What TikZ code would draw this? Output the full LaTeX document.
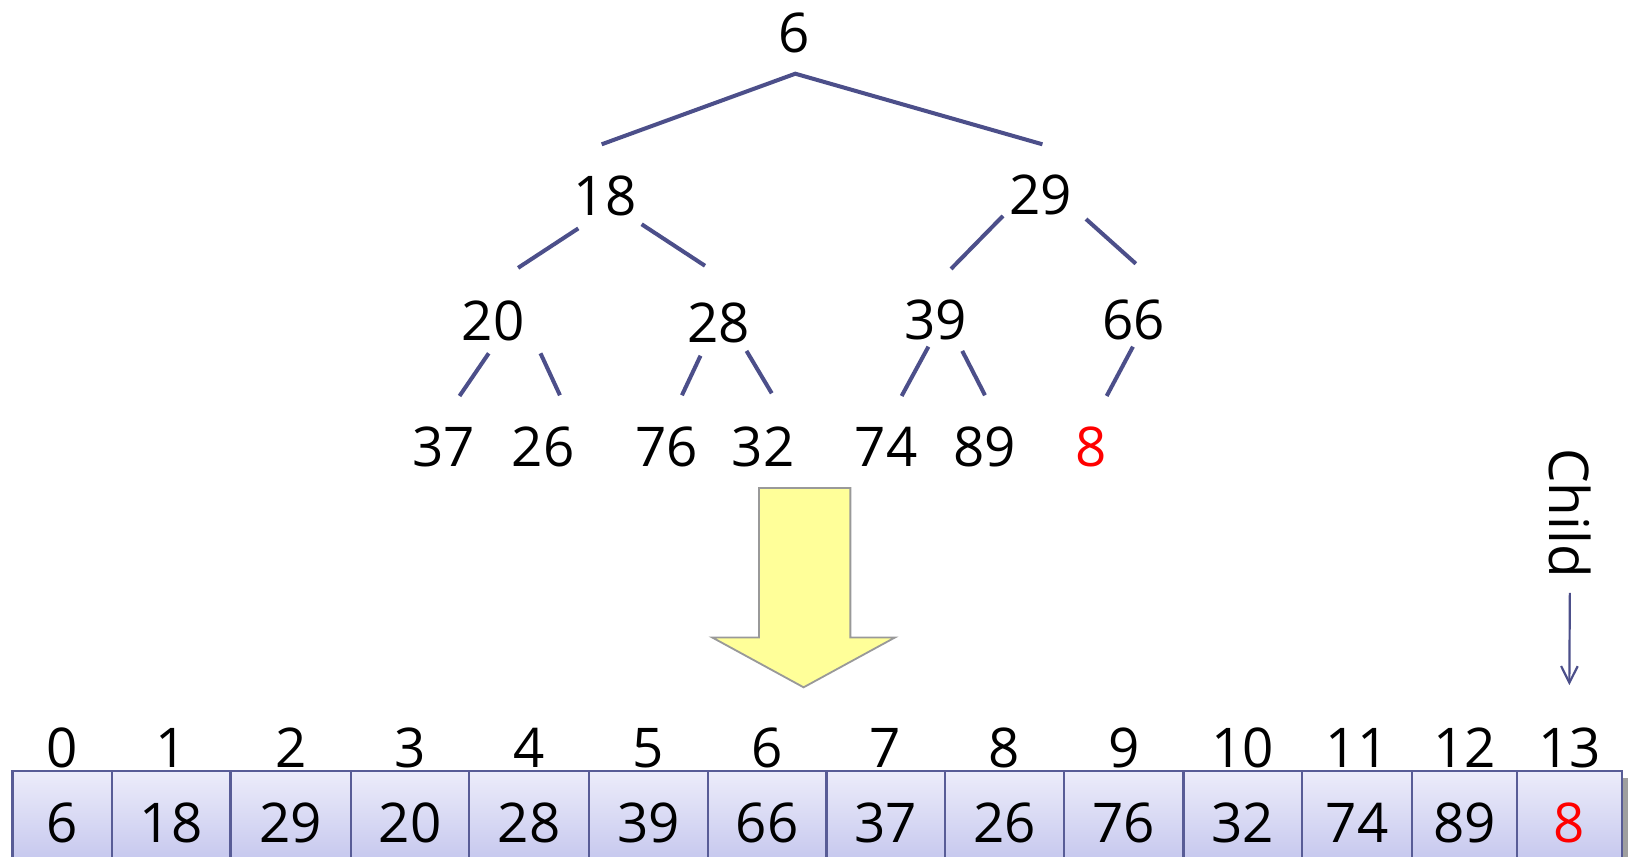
\documentclass[tikz,border=0pt]{standalone}
\usepackage{fontspec}
\setmainfont{Open Sans}
\usetikzlibrary{arrows.meta}

\definecolor{kantenfarbe}{RGB}{76,79,138}
\definecolor{feldrand}{RGB}{88,92,150}
\definecolor{feldoben}{RGB}{236,236,250}
\definecolor{feldunten}{RGB}{192,194,236}
\definecolor{gelb}{RGB}{255,255,153}

\tikzset{
    zahl/.style={inner sep=0pt},
    kante/.style={draw=kantenfarbe, line width=1.1pt},
    feld/.style={draw=feldrand, line width=0.6pt, top color=feldoben, bottom color=feldunten,
        minimum height=1cm, inner sep=0pt},
    pfeil/.style={draw=kantenfarbe, line width=0.6pt, -{Straight Barb[length=1.6mm,width=1.6mm]}},
    dickpfeil/.style={fill=gelb, draw=gray!80, line width=0.5pt}
}

\begin{document}
\begin{tikzpicture}[x=0.01cm, y=-0.01cm, font=\fontsize{15}{18}\selectfont,
    label distance=0.5pt, every label/.style={inner sep=0pt}]
    \useasboundingbox (0,0) rectangle (1568,825);
    \path node[zahl] (N6) at (765,32) {6}
        node[zahl] (N18) at (583,189) {18}
        node[zahl] (N29) at (1002,188) {29}
        node[zahl] (N20) at (475,309) {20}
        node[zahl] (N28) at (692,311) {28}
        node[zahl] (N39) at (901,308) {39}
        node[zahl] (N66) at (1092,308) {66}
        node[zahl] (N37) at (427,430) {37}
        node[zahl] (N26) at (523,430) {26}
        node[zahl] (N76) at (642,430) {76}
        node[zahl] (N32) at (735,430) {32}
        node[zahl] (N74) at (853.5,430) {74}
        node[zahl] (N89) at (948.5,430) {89}
        node[zahl, text=red] (N8) at (1050.5,430) {8};
    \draw[kante] ([shift={(-3.5,-50)}]N18.center) -- ([shift={(1,39)}]N6.center) -- ([shift={(2,-49)}]N29.center);
    \draw[kante] ([shift={(-26,31)}]N18.center) -- ([shift={(24,-51)}]N20.center);
    \draw[kante] ([shift={(35,27)}]N18.center) -- ([shift={(-13,-55)}]N28.center);
    \draw[kante] ([shift={(-36,20)}]N29.center) -- ([shift={(15,-49)}]N39.center);
    \draw[kante] ([shift={(44,23)}]N29.center) -- ([shift={(2,-54)}]N66.center);
    \draw[kante] ([shift={(-4.3,31.3)}]N20.center) -- ([shift={(15.6,-48.6)}]N37.center);
    \draw[kante] ([shift={(45.6,31.3)}]N20.center) -- ([shift={(16.3,-49.3)}]N26.center);
    \draw[kante] ([shift={(-17.3,31.6)}]N28.center) -- ([shift={(14.8,-49.3)}]N76.center);
    \draw[kante] ([shift={(27,27)}]N28.center) -- ([shift={(8.3,-51.2)}]N32.center);
    \draw[kante] ([shift={(-6.8,25.9)}]N39.center) -- ([shift={(14.9,-48.6)}]N74.center);
    \draw[kante] ([shift={(25.8,30)}]N39.center) -- ([shift={(0.2,-49.3)}]N89.center);
    \draw[kante] ([shift={(-0.8,25.9)}]N66.center) -- ([shift={(15.4,-48.6)}]N8.center);

    \draw[dickpfeil] (731,470) -- (819,470) -- (819,614) -- (862,614) -- (774,662) -- (686,614) -- (731,614) -- cycle;

    \fill[gray!75] (18,749) rectangle (1568,830);
    \path node[feld, minimum width=0.96cm, label=above:0] (F0) at (60,793) {6}
        node[feld, minimum width=1.14cm, label=above:1] (F1) at (165,793) {18}
        node[feld, minimum width=1.16cm, label=above:2] (F2) at (280,793) {29}
        node[feld, minimum width=1.14cm, label=above:3] (F3) at (395,793) {20}
        node[feld, minimum width=1.15cm, label=above:4] (F4) at (509.5,793) {28}
        node[feld, minimum width=1.15cm, label=above:5] (F5) at (624.5,793) {39}
        node[feld, minimum width=1.14cm, label=above:6] (F6) at (739,793) {66}
        node[feld, minimum width=1.14cm, label=above:7] (F7) at (853,793) {37}
        node[feld, minimum width=1.15cm, label=above:8] (F8) at (967.5,793) {26}
        node[feld, minimum width=1.15cm, label=above:9] (F9) at (1082.5,793) {76}
        node[feld, minimum width=1.14cm, label=above:10] (F10) at (1197,793) {32}
        node[feld, minimum width=1.06cm, label=above:11] (F11) at (1307,793) {74}
        node[feld, minimum width=1.01cm, label=above:12] (F12) at (1410.5,793) {89}
        node[feld, minimum width=1.01cm, label=above:13] (F13) at (1511.5,793) {\textcolor{red}{8}};

    \node[rotate=-90, inner sep=0pt] (Child) at (1512,494) {Child};
    \draw[pfeil] ([shift={(0,14)}]Child.east) -- ([shift={(0,-82)}]F13.north);
\end{tikzpicture}
\end{document}
